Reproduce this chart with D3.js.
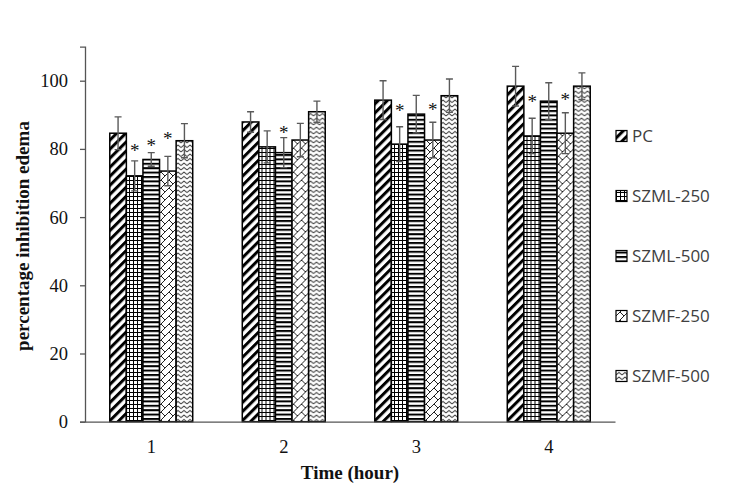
<!DOCTYPE html>
<html>
<head>
<meta charset="utf-8">
<script src="https://cdn.jsdelivr.net/npm/d3@7"></script>
<style>
  body { margin: 0; background: #fff; }
  svg { display: block; }
</style>
</head>
<body>
<div id="vis"></div>
<script>
// datos
const hours = ["1", "2", "3", "4"];
const series = ["PC", "SZML-250", "SZML-500", "SZMF-250", "SZMF-500"];

const meanPC = [84.6, 87.9, 94.3, 98.4];
const meanSZML250 = [72.1, 80.6, 81.4, 83.8];
const meanSZML500 = [76.9, 78.9, 90.2, 94.0];
const meanSZMF250 = [73.5, 82.6, 82.6, 84.6];
const meanSZMF500 = [82.4, 90.9, 95.6, 98.4];

const errPC = [4.8, 3.0, 5.7, 5.8];
const errSZML250 = [4.4, 4.7, 5.1, 5.2];
const errSZML500 = [2.0, 4.4, 5.5, 5.4];
const errSZMF250 = [4.3, 4.9, 5.2, 6.0];
const errSZMF500 = [5.0, 3.1, 4.9, 3.9];

// altura del asterisco (null = sin diferencia significativa)
const starPC = [null, null, null, null];
const starSZML250 = [80.3, null, 91.9, 94.5];
const starSZML500 = [81.6, 85.5, null, null];
const starSZMF250 = [83.8, null, 92.2, 95.1];
const starSZMF500 = [null, null, null, null];

const yTicks = [0, 20, 40, 60, 80, 100];

const means = [meanPC, meanSZML250, meanSZML500, meanSZMF250, meanSZMF500];
const errs = [errPC, errSZML250, errSZML500, errSZMF250, errSZMF500];
const stars = [starPC, starSZML250, starSZML500, starSZMF250, starSZMF500];

const width = 740;
const height = 495;
const margin = { top: 46.6, right: 125, bottom: 73.3, left: 85 };

const svg = d3.select("#vis")
  .append("svg")
  .attr("width", width)
  .attr("height", height);

// patrones de relleno
const defs = svg.append("defs");

const p0 = defs.append("pattern").attr("id", "pat0")
  .attr("patternUnits", "userSpaceOnUse")
  .attr("width", 6.4).attr("height", 6.4)
  .attr("patternTransform", "rotate(45)");
p0.append("rect").attr("width", 6.4).attr("height", 6.4).attr("fill", "#fff");
p0.append("rect").attr("width", 3).attr("height", 6.4).attr("fill", "#000");

const p1 = defs.append("pattern").attr("id", "pat1")
  .attr("patternUnits", "userSpaceOnUse")
  .attr("width", 4).attr("height", 4);
p1.append("rect").attr("width", 4).attr("height", 4).attr("fill", "#fff");
p1.append("path").attr("d", "M0 0.5H4M0.5 0V4")
  .attr("stroke", "#000").attr("stroke-width", 1).attr("fill", "none");

const p2 = defs.append("pattern").attr("id", "pat2")
  .attr("patternUnits", "userSpaceOnUse")
  .attr("width", 4).attr("height", 4.4);
p2.append("rect").attr("width", 4).attr("height", 4.4).attr("fill", "#fff");
p2.append("rect").attr("width", 4).attr("height", 2).attr("fill", "#000");

const p3 = defs.append("pattern").attr("id", "pat3")
  .attr("patternUnits", "userSpaceOnUse")
  .attr("width", 8).attr("height", 8);
p3.append("rect").attr("width", 8).attr("height", 8).attr("fill", "#fff");
p3.append("path").attr("d", "M-1 9L9 -1M4 4L8 8")
  .attr("stroke", "#222").attr("stroke-width", 1).attr("fill", "none");

const p4 = defs.append("pattern").attr("id", "pat4")
  .attr("patternUnits", "userSpaceOnUse")
  .attr("width", 6).attr("height", 4.5);
p4.append("rect").attr("width", 6).attr("height", 4.5).attr("fill", "#fff");
p4.append("path").attr("d", "M0 3.5L3 1L6 3.5")
  .attr("stroke", "#222").attr("stroke-width", 1).attr("fill", "none");

const fills = series.map((_s, i) => `url(#pat${i})`);

// escalas
const x = d3.scaleBand()
  .domain(hours)
  .range([margin.left, width - margin.right]);

const groupWidth = x.bandwidth() * 0.626;
const xs = d3.scaleBand()
  .domain(series)
  .range([(x.bandwidth() - groupWidth) / 2, (x.bandwidth() + groupWidth) / 2]);

const y = d3.scaleLinear()
  .domain([0, 110])
  .range([height - margin.bottom, margin.top]);

// ejes
const yAxis = svg.append("g")
  .attr("transform", `translate(${margin.left},0)`)
  .call(d3.axisLeft(y).tickValues(yTicks).tickSize(5).tickPadding(12));
yAxis.select(".domain").attr("stroke", "#555").attr("stroke-width", 1.3);
yAxis.selectAll(".tick line").attr("stroke", "#555").attr("stroke-width", 1.3);
yAxis.selectAll("text")
  .style("font-family", "'Liberation Serif', serif")
  .style("font-size", "18.5px")
  .attr("fill", "#111");

// barras
const groups = svg.selectAll("g.hour")
  .data(hours)
  .enter()
  .append("g")
  .attr("class", "hour")
  .attr("transform", (d) => `translate(${x(d)},0)`);

const cells = groups.selectAll("g.cell")
  .data((_h, hi) => series.map((s, si) => ({
    s, si,
    v: means[si][hi],
    e: errs[si][hi],
    star: stars[si][hi]
  })))
  .enter()
  .append("g")
  .attr("class", "cell");

cells.append("rect")
  .attr("x", (d) => xs(d.s))
  .attr("y", (d) => y(d.v))
  .attr("width", xs.bandwidth())
  .attr("height", (d) => y(0) - y(d.v))
  .attr("fill", (d) => fills[d.si])
  .attr("stroke", "#000")
  .attr("stroke-width", 1.5);

// barras de error
const cap = 3.5;
const ex = (d) => xs(d.s) + xs.bandwidth() / 2;
cells.append("path")
  .attr("d", (d) => {
    const cx = ex(d), t = y(d.v + d.e), b = y(d.v - d.e);
    return `M${cx},${t}V${b}M${cx - cap},${t}H${cx + cap}M${cx - cap},${b}H${cx + cap}`;
  })
  .attr("fill", "none")
  .attr("stroke", "#5a5a5a")
  .attr("stroke-width", 1.4);

// asteriscos
cells.filter((d) => d.star !== null)
  .append("text")
  .attr("x", ex)
  .attr("y", (d) => y(d.star) + 9)
  .attr("text-anchor", "middle")
  .style("font-family", "'Liberation Serif', serif")
  .style("font-size", "19px")
  .attr("fill", "#111")
  .text("*");

const xAxis = svg.append("g")
  .attr("transform", `translate(0,${y(0)})`)
  .call(d3.axisBottom(x).tickSize(0).tickPadding(18));
xAxis.select(".domain").attr("stroke", "#555").attr("stroke-width", 1.3);
xAxis.selectAll("text")
  .style("font-family", "'Liberation Serif', serif")
  .style("font-size", "18.5px")
  .attr("fill", "#111");

// titulos
svg.append("text")
  .attr("x", (margin.left + width - margin.right) / 2)
  .attr("y", 479)
  .attr("text-anchor", "middle")
  .style("font-family", "'Liberation Serif', serif")
  .style("font-size", "19px")
  .style("font-weight", "bold")
  .attr("fill", "#111")
  .text("Time (hour)");

svg.append("text")
  .attr("transform", "translate(29,236) rotate(-90)")
  .attr("text-anchor", "middle")
  .style("font-family", "'Liberation Serif', serif")
  .style("font-size", "19px")
  .style("font-weight", "bold")
  .attr("fill", "#111")
  .text("percentage inhibition edema");

// leyenda
const legend = svg.selectAll("g.legend")
  .data(series)
  .enter()
  .append("g")
  .attr("class", "legend")
  .attr("transform", (_d, i) => `translate(616,${136 + i * 60})`);

legend.append("rect")
  .attr("x", 0)
  .attr("y", -5.5)
  .attr("width", 11)
  .attr("height", 11)
  .attr("fill", (_d, i) => fills[i])
  .attr("stroke", "#000")
  .attr("stroke-width", 1.2);

legend.append("text")
  .attr("x", 16)
  .attr("y", 6)
  .style("font-family", "'Open Sans', sans-serif")
  .style("font-size", "17px")
  .attr("fill", "#404040")
  .text((d) => d);
</script>
</body>
</html>
